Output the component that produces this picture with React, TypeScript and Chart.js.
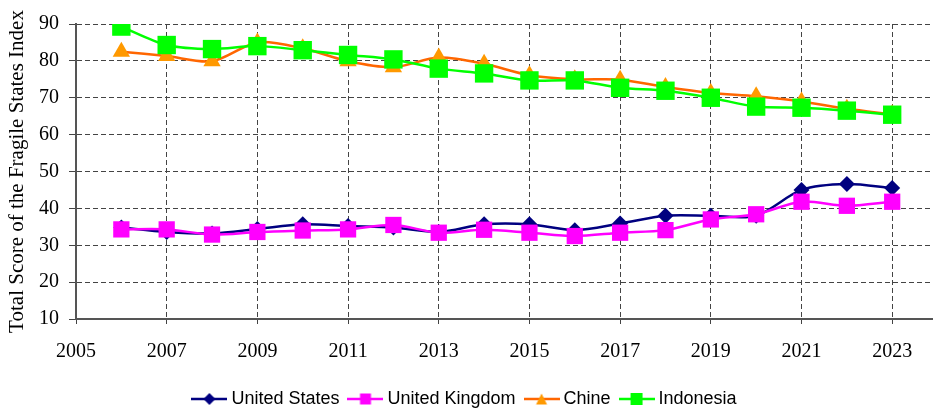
import React, { useEffect, useRef } from "react";
import { Chart, registerables } from "chart.js";

Chart.register(...registerables);

const years = [2006, 2007, 2008, 2009, 2010, 2011, 2012, 2013, 2014, 2015, 2016, 2017, 2018, 2019, 2020, 2021, 2022, 2023];
const xTickYears = [2005, 2007, 2009, 2011, 2013, 2015, 2017, 2019, 2021, 2023];
const yTickValues = [10, 20, 30, 40, 50, 60, 70, 80, 90];
const unitedStates = [34.8, 33.6, 33.2, 34.4, 35.7, 35.2, 34.8, 33.6, 35.7, 35.7, 34.1, 35.9, 38.0, 38.0, 38.0, 45.0, 46.6, 45.5];
const unitedKingdom = [34.3, 34.3, 32.9, 33.6, 34.0, 34.3, 35.5, 33.4, 34.2, 33.4, 32.5, 33.4, 34.1, 37.0, 38.4, 41.8, 40.7, 41.8];
const chine = [82.5, 81.3, 79.9, 85.0, 83.4, 79.9, 78.3, 80.9, 79.2, 76.1, 75.0, 74.9, 72.9, 71.3, 70.4, 69.0, 67.0, 65.5];
const indonesia = [89.3, 84.3, 83.2, 84.0, 82.9, 81.6, 80.4, 77.9, 76.6, 74.7, 74.7, 72.7, 71.9, 70.0, 67.6, 67.3, 66.5, 65.4];
const seriesNames = ["United States", "United Kingdom", "Chine", "Indonesia"];
const yTitle = "Total Score of the Fragile States Index";

const serif = "'Liberation Serif', 'Times New Roman', serif";
const sans = "'Liberation Sans', Arial, sans-serif";

function legendIcon(lineColor: string, markerColor: string, shape: string, size: number) {
  const c = document.createElement("canvas");
  c.width = 36;
  c.height = 20;
  const ctx = c.getContext("2d")!;
  ctx.strokeStyle = lineColor;
  ctx.lineWidth = 2.5;
  ctx.beginPath();
  ctx.moveTo(0, 10);
  ctx.lineTo(36, 10);
  ctx.stroke();
  ctx.fillStyle = markerColor;
  ctx.beginPath();
  if (shape === "rect") {
    ctx.rect(18 - size / 2, 10 - size / 2, size, size);
  } else if (shape === "diamond") {
    ctx.moveTo(18, 10 - size / 2);
    ctx.lineTo(18 + size / 2, 10);
    ctx.lineTo(18, 10 + size / 2);
    ctx.lineTo(18 - size / 2, 10);
    ctx.closePath();
  } else {
    ctx.moveTo(18, 10 - size / 2);
    ctx.lineTo(18 + size / 2, 10 + size / 2);
    ctx.lineTo(18 - size / 2, 10 + size / 2);
    ctx.closePath();
  }
  ctx.fill();
  return c;
}

export default function App() {
  const ref = useRef<HTMLCanvasElement | null>(null);

  useEffect(() => {
    if (!ref.current) return;
    const toPts = (vals: number[]) => years.map((x, i) => ({ x, y: vals[i] }));
    const styles = [
      { line: "#000080", marker: "#000080", shape: "diamond", size: 12 },
      { line: "#FF00FF", marker: "#FF00FF", shape: "rect", size: 11 },
      { line: "#FF6600", marker: "#FF9900", shape: "tri", size: 11 },
      { line: "#00FF00", marker: "#00FF00", shape: "rect", size: 12 },
    ];
    const icons = styles.map((s) => legendIcon(s.line, s.marker, s.shape, s.size));

    const chart = new Chart(ref.current, {
      type: "line",
      data: {
        datasets: [
          {
            label: seriesNames[0],
            data: toPts(unitedStates),
            borderColor: "#000080",
            backgroundColor: "#000080",
            pointStyle: "rectRot",
            pointRadius: 8,
            pointBorderWidth: 0,
            borderWidth: 2.5,
            tension: 0.3,
            order: 3,
          },
          {
            label: seriesNames[1],
            data: toPts(unitedKingdom),
            borderColor: "#FF00FF",
            backgroundColor: "#FF00FF",
            pointStyle: "rect",
            pointRadius: 11.5,
            pointBorderWidth: 0,
            borderWidth: 2.5,
            tension: 0.3,
            order: 2,
          },
          {
            label: seriesNames[2],
            data: toPts(chine),
            borderColor: "#FF6600",
            backgroundColor: "#FF9900",
            pointBackgroundColor: "#FF9900",
            pointStyle: "triangle",
            pointRadius: 10,
            pointBorderWidth: 0,
            borderWidth: 2.5,
            tension: 0.3,
            order: 1,
          },
          {
            label: seriesNames[3],
            data: toPts(indonesia),
            borderColor: "#00FF00",
            backgroundColor: "#00FF00",
            pointStyle: "rect",
            pointRadius: 13,
            pointBorderWidth: 0,
            borderWidth: 2.5,
            tension: 0.3,
            order: 0,
          },
        ],
      },
      options: {
        animation: false,
        responsive: false,
        maintainAspectRatio: false,
        layout: { autoPadding: false, padding: { top: 24, left: 0, right: 0, bottom: -6 } },
        plugins: {
          tooltip: { enabled: false },
          legend: {
            position: "bottom",
            labels: {
              usePointStyle: true,
              pointStyleWidth: 26,
              padding: 13,
              color: "#000",
              font: { family: sans, size: 18 },
              generateLabels: () =>
                seriesNames.map((name, i) => ({
                  text: name,
                  pointStyle: icons[i] as any,
                  fillStyle: styles[i].marker,
                  strokeStyle: styles[i].line,
                  lineWidth: 0,
                  hidden: false,
                  datasetIndex: i,
                  fontColor: "#000",
                })),
            },
          },
        },
        scales: {
          x: {
            type: "linear",
            min: 2005,
            max: 2023.9,
            afterFit: (s: any) => {
              s.height = 58;
            },
            afterBuildTicks: (s: any) => {
              s.ticks = xTickYears.map((v) => ({ value: v }));
            },
            ticks: {
              color: "#000",
              padding: 16,
              maxRotation: 0,
              autoSkip: false,
              font: { family: serif, size: 20 },
              callback: (v: any) => String(v),
            },
            grid: {
              color: "#444",
              lineWidth: 1,
              tickLength: 5,
            },
            border: { color: "#555", width: 2, dash: [5, 3] },
          },
          y: {
            min: 10,
            max: 90,
            afterFit: (s: any) => {
              s.width = 76;
            },
            afterBuildTicks: (s: any) => {
              s.ticks = yTickValues.map((v) => ({ value: v }));
            },
            ticks: {
              color: "#000",
              padding: 10,
              font: { family: serif, size: 20 },
            },
            title: {
              display: true,
              text: yTitle,
              color: "#000",
              padding: { top: 5, bottom: 0 },
              font: { family: serif, size: 21 },
            },
            grid: {
              color: "#444",
              lineWidth: 1,
              tickLength: 7,
            },
            border: { color: "#555", width: 2, dash: [5, 3] },
          },
        },
      } as any,
    });
    return () => chart.destroy();
  }, []);

  return (
    <div style={{ position: "absolute", left: 0, top: 0, width: 933, height: 412 }}>
      <canvas ref={ref} width={933} height={412} style={{ display: "block" }} />
    </div>
  );
}
